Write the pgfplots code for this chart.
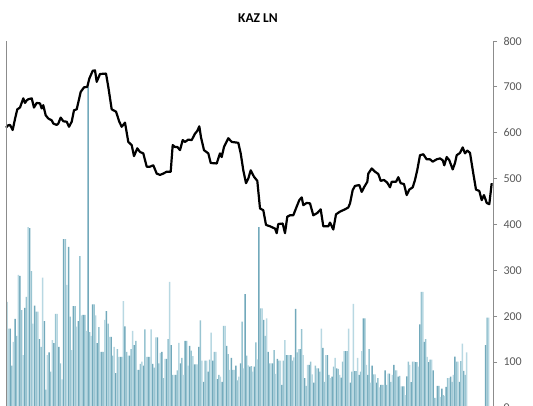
\documentclass[border=0pt]{standalone}
\usepackage{pgfplots}
\pgfplotsset{compat=1.18}
\usepackage{pgfplotstable}
\usepackage{fontspec}
\setmainfont{Carlito}
\definecolor{axgray}{HTML}{8C8C8C}
\definecolor{lblgray}{HTML}{595959}
\definecolor{vdark}{HTML}{72A9BB}
\definecolor{vmid}{HTML}{98C4D1}
\definecolor{vlight}{HTML}{B8D8E2}
\pgfplotstableread{
v
231
173
173
92
144
194
157
290
288
213
115
218
242
394
392
298
184
223
210
210
150
133
284
189
40
115
121
79
148
141
205
205
133
97
62
368
368
268
351
199
126
222
222
177
189
331
202
203
203
168
700
165
157
226
226
202
141
176
122
122
122
192
211
184
155
155
114
133
76
128
111
111
111
233
178
122
114
114
128
168
137
146
83
83
96
101
92
171
111
111
111
171
96
88
154
154
97
120
122
65
107
107
150
275
137
72
72
72
82
142
97
109
72
146
146
92
135
125
113
95
95
95
133
191
103
57
103
103
79
105
164
103
122
122
63
72
68
57
179
179
135
117
83
109
83
83
92
60
68
97
188
86
248
114
93
90
91
79
90
143
106
394
217
217
192
157
195
122
97
97
97
126
74
107
103
103
50
103
148
115
115
115
115
103
110
216
121
128
128
172
115
65
48
94
94
101
73
55
92
86
86
79
173
131
57
115
115
72
65
68
90
109
86
85
72
66
101
124
124
124
173
55
79
227
80
80
109
72
79
124
195
195
94
72
128
55
92
73
73
55
65
45
50
50
50
82
50
75
75
57
72
94
82
82
68
70
47
47
47
28
69
101
94
56
101
101
100
100
90
182
253
253
144
150
111
100
105
105
82
22
22
48
48
24
42
28
26
46
65
65
68
57
72
112
101
101
57
102
140
81
72
121
121
121
31
115
77
191
111
109
109
148
115
170
137
197
197
115
148
}\voltable
\newcommand{\volx}{(\coordindex<=50 ? 7+1.62*\coordindex :
      (\coordindex<=161 ? 88+1.5405*(\coordindex-50) :
      (\coordindex<=223 ? 259+1.521*(\coordindex-161) :
      (\coordindex<=270 ? 353.3+1.447*(\coordindex-223) :
      421.3+1.4625*(\coordindex-270)))))}
\begin{document}
\begin{tikzpicture}
\begin{axis}[
  at={(0,0)}, anchor=south west,
  scale only axis,
  width=487pt, height=366.9pt,
  xmin=6, xmax=493,
  ymin=0, ymax=800,
  axis x line=none,
  axis y line*=right,
  axis line style={axgray, line width=0.8pt},
  ytick={0,100,...,800},
  xtick=\empty,
  tick align=outside,
  major tick length=4pt,
  tick style={axgray, line width=0.8pt},
  yticklabel style={font=\fontsize{12}{14}\selectfont, text=lblgray, xshift=3pt},
  /pgf/number format/assume math mode=true,
  clip=false,
]
\addplot[ybar, bar shift=0pt, bar width=1.5, fill=vdark, draw=none,
  restrict expr to domain={mod(\coordindex+1,3)}{0:0}]
  table[x expr={\volx}, y=v] {\voltable};
\addplot[ybar, bar shift=0pt, bar width=1.5, fill=vmid, draw=none,
  restrict expr to domain={mod(\coordindex+1,3)}{1:1}]
  table[x expr={\volx}, y=v] {\voltable};
\addplot[ybar, bar shift=0pt, bar width=1.5, fill=vlight, draw=none,
  restrict expr to domain={mod(\coordindex+1,3)}{2:2}]
  table[x expr={\volx}, y=v] {\voltable};
\addplot[black, line width=2.2pt, line join=round, mark=none] coordinates {
(6,611)(8,616)(10,617)(12.7,606)(15,630)(17.3,651)(20,655)(23.3,675)(25,665)(26.5,670)
(28.3,673)(31.7,675)(34,655)(36.7,665)(40,664)(41.7,653)(43.3,660)(45.7,638)(48.3,631)
(51.7,627)(53.3,620)(56.7,617)(58.3,620)(60.7,633)(63.3,625)(66.7,624)(69,613)(71.7,624)
(74,649)(76.7,651)(80.7,689)(84,699)(87.3,700)(89.3,718)(92.7,735)(95,736)(96.7,711)
(100,728)(106,729)(108.3,700)(111.7,651)(116,646)(119.3,624)(121.7,613)(125,622)
(128.3,580)(131.7,573)(134,549)(137.3,566)(140,558)(143.3,555)(146.7,526)(150,526)
(153.3,529)(156.7,511)(160,508)(163.3,511)(166.7,515)(170.7,515)(172.7,573)(175,569)
(177.3,569)(180,562)(182.7,584)(185,580)(188.3,585)(191.7,584)(195,598)(197.3,604)
(199.3,614)(201,590)(204,562)(208.3,555)(210.7,534)(216.7,533)(220,555)(221.7,547)
(224,569)(228.3,588)(231.7,580)(238.3,578)(240.7,555)(243.3,518)(246,490)(248.3,500)
(250.7,518)(254,504)(257.3,495)(260,435)(263.3,431)(266,399)(270,396)(275,391)
(276.7,381)(278.3,401)(282.7,402)(285,381)(287.3,417)(290,420)(293.3,420)(296.7,439)
(299.3,453)(301.7,459)(303.3,442)(306.7,447)(310,446)(313.3,420)(317.3,425)(320.7,433)
(323.3,396)(328.3,396)(330,404)(333.3,389)(336,422)(340,428)(345,433)(348.3,437)
(350,446)(352.7,475)(355,484)(359.3,486)(361.7,471)(364,481)(367.3,493)(368.3,511)
(371.7,522)(375,515)(378.3,510)(380.7,495)(384,497)(387.3,491)(390,481)(391.7,493)
(396,493)(398.3,503)(400.7,490)(404,488)(406.7,464)(409.3,476)(412.7,481)(415,497)
(417.3,519)(420,551)(423.3,553)(426.7,542)(430,542)(432.7,537)(436.7,542)(440,544)
(442.7,540)(444.3,529)(446.7,547)(449.3,540)(452.7,520)(455,534)(456.7,551)(460,556)
(462.7,568)(465,555)(467.3,561)(470,556)(473.3,511)(476,476)(479.3,473)(481.7,453)
(484,464)(486.7,447)(489.3,444)(491.7,490)
};
\draw[axgray, line width=0.8pt] (rel axis cs:0,0) -- (rel axis cs:0,1);
\end{axis}
\node[font=\bfseries\fontsize{13.5}{16}\selectfont] at (252pt,390pt) {KAZ LN};
\pgfresetboundingbox
\path[use as bounding box] (-6pt,2.9pt) rectangle (527pt,407.9pt);
\end{tikzpicture}
\end{document}
